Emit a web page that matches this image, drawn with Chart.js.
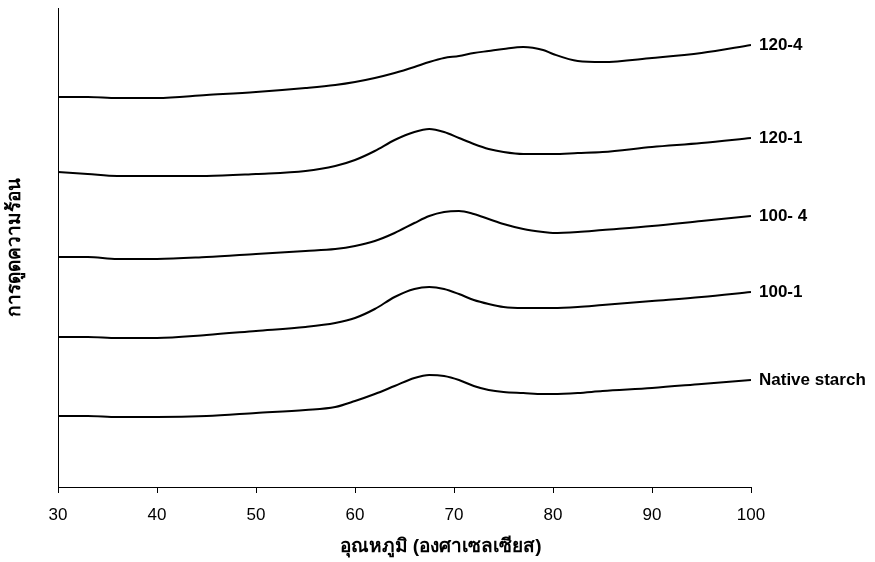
<!DOCTYPE html>
<html>
<head>
<meta charset="utf-8">
<script src="https://cdn.jsdelivr.net/npm/chart.js@4"></script>
<style>
    html, body { margin: 0; padding: 0; background: #fff; }
    #wrap { width: 875px; height: 562px; }
</style>
</head>
<body>
<div id="wrap"><canvas id="dscChart" width="875" height="562"></canvas></div>
<script>
// --- Data (temperature in °C, heat flow in arbitrary offset units) ---
const temps = [30, 33, 36, 40, 45, 50, 55, 58, 60, 62, 64, 66, 67.5, 69, 70.5, 72, 73.5, 75, 77, 79, 80, 82.5, 85, 90, 95, 100];

const nativeStarch = [7.1, 7.1, 7.0, 7.0, 7.1, 7.4, 7.7, 8.0, 8.6, 9.3, 10.1, 10.9, 11.2, 11.1, 10.7, 10.1, 9.7, 9.5, 9.4, 9.3, 9.3, 9.4, 9.6, 9.9, 10.3, 10.7];
const s100_1 = [15.0, 15.0, 14.9, 14.9, 15.2, 15.6, 16.0, 16.4, 16.9, 17.8, 19.0, 19.8, 20.0, 19.8, 19.3, 18.7, 18.3, 18.0, 17.9, 17.9, 17.9, 18.0, 18.2, 18.6, 19.0, 19.5];
const s100_4 = [23.0, 23.0, 22.8, 22.8, 23.0, 23.3, 23.6, 23.8, 24.1, 24.6, 25.4, 26.4, 27.1, 27.5, 27.6, 27.3, 26.8, 26.3, 25.8, 25.5, 25.4, 25.5, 25.7, 26.1, 26.6, 27.1];
const s120_1 = [31.5, 31.3, 31.1, 31.1, 31.1, 31.3, 31.6, 32.1, 32.7, 33.6, 34.7, 35.5, 35.8, 35.5, 34.9, 34.3, 33.8, 33.5, 33.3, 33.3, 33.3, 33.4, 33.5, 34.0, 34.4, 34.9];
const s120_4 = [39.0, 39.0, 38.9, 38.9, 39.2, 39.5, 39.9, 40.2, 40.5, 40.9, 41.4, 42.0, 42.5, 42.9, 43.1, 43.4, 43.6, 43.8, 44.0, 43.7, 43.3, 42.6, 42.5, 42.9, 43.4, 44.2];

const seriesNames = ['Native starch', '100-1', '100- 4', '120-1', '120-4'];
const seriesValues = [nativeStarch, s100_1, s100_4, s120_1, s120_4];

const xTicks = [30, 40, 50, 60, 70, 80, 90, 100];
const xTitle = 'อุณหภูมิ (องศาเซลเซียส)';
const yTitle = 'การดูดความร้อน';

const baseFont = "'Liberation Sans', Arial, 'Noto Sans', sans-serif";

// --- Plugins ---
// series name written at the right end of each curve
const endLabels = {
    id: 'endLabels',
    afterDatasetsDraw(chart) {
        const ctx = chart.ctx;
        ctx.save();
        ctx.font = `bold 17px ${baseFont}`;
        ctx.fillStyle = '#000';
        ctx.textAlign = 'left';
        ctx.textBaseline = 'middle';
        chart.data.datasets.forEach((ds, i) => {
            const pts = chart.getDatasetMeta(i).data;
            const last = pts[pts.length - 1];
            ctx.fillText(ds.label, last.x + 8, last.y);
        });
        ctx.restore();
    }
};

// x axis title sits a bit right of centre in the original
const xAxisTitle = {
    id: 'xAxisTitle',
    afterDraw(chart) {
        const ctx = chart.ctx;
        const area = chart.chartArea;
        ctx.save();
        ctx.font = `bold 19px ${baseFont}`;
        ctx.fillStyle = '#000';
        ctx.textAlign = 'center';
        ctx.textBaseline = 'middle';
        ctx.fillText(xTitle, (area.left + area.right) / 2 + 36, 547);
        ctx.restore();
    }
};

// --- Chart ---
const ctx = document.getElementById('dscChart').getContext('2d');

new Chart(ctx, {
    type: 'line',
    data: {
        datasets: seriesValues.map((vals, i) => ({
            label: seriesNames[i],
            data: temps.map((t, j) => ({ x: t, y: vals[j] })),
            borderColor: '#000',
            borderWidth: 2,
            pointRadius: 0,
            tension: 0.4,
            cubicInterpolationMode: 'monotone',
            fill: false
        }))
    },
    options: {
        responsive: false,
        animation: false,
        layout: { padding: { top: 8, right: 124, left: 0, bottom: 0 } },
        plugins: {
            legend: { display: false },
            tooltip: { enabled: false }
        },
        scales: {
            x: {
                type: 'linear',
                min: 30,
                max: 100,
                afterBuildTicks: scale => { scale.ticks = xTicks.map(v => ({ value: v })); },
                afterFit: scale => { scale.height = 75; },
                grid: { drawOnChartArea: false, drawTicks: true, tickLength: 6, color: '#000' },
                border: { color: '#000', width: 1 },
                ticks: { color: '#000', padding: 12, maxRotation: 0, font: { family: baseFont, size: 17 } }
            },
            y: {
                min: 0,
                max: 47.9,
                afterFit: scale => { scale.width = 58; },
                grid: { display: false },
                border: { display: true, color: '#000', width: 1 },
                ticks: { display: false },
                title: {
                    display: true,
                    text: yTitle,
                    color: '#000',
                    padding: 3,
                    font: { family: baseFont, size: 19, weight: 'bold' }
                }
            }
        }
    },
    plugins: [endLabels, xAxisTitle]
});
</script>
</body>
</html>
